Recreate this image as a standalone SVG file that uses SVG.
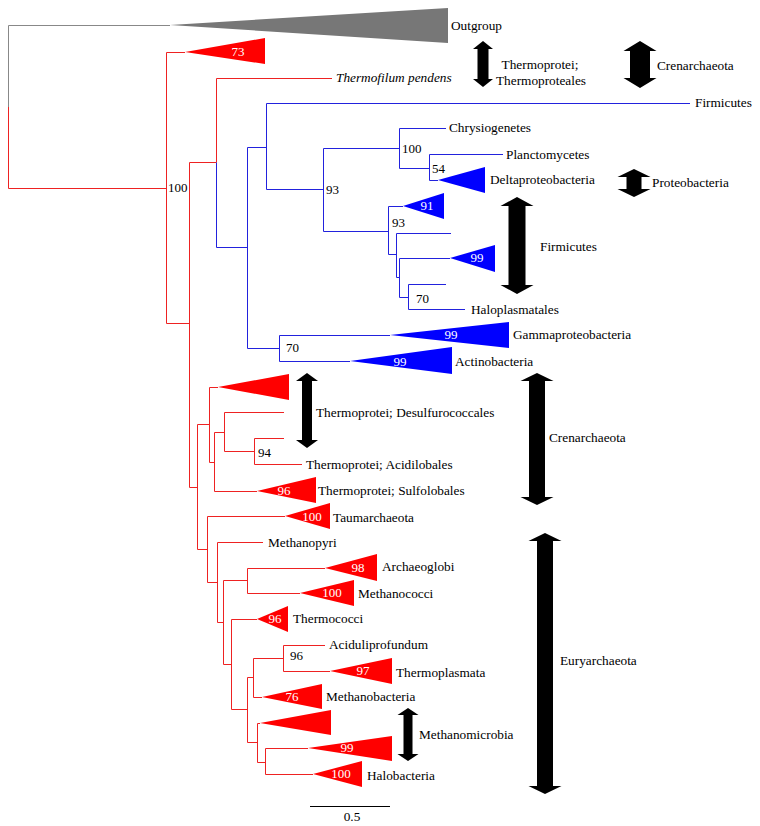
<svg xmlns="http://www.w3.org/2000/svg" width="760" height="826" viewBox="0 0 760 826" font-family="'Liberation Serif', serif">
<style>
text{font-family:"Liberation Serif","DejaVu Serif",serif;font-size:13.3px;fill:#000}
.n{font-size:13px}
.w{font-size:13px;fill:#fff;text-anchor:middle}
.i{font-style:italic}
.m{text-anchor:middle}
.r{fill:#ff0000}
.b{fill:#0000ff}
.g{fill:#777777}
.lr{fill:none;stroke:#ee2222;stroke-width:1}
.lb{fill:none;stroke:#2222dd;stroke-width:1}
.lg{fill:none;stroke:#888888;stroke-width:1}
.ar{fill:#000}
</style>
<rect width="760" height="826" fill="#fff"/>
<g id="connectors">
<path class="lg" d="M170,25.5 H8.5 V107"/>
<path class="lr" d="M8.5,107 V188.5 H166.5 M166.5,52.5 V323.5 M166.5,52.5 H185 M166.5,323.5 H189.5 M189.5,162.5 V487.5 M189.5,162.5 H216.5 M216.5,78.5 V162.5 M216.5,78.5 H332
M189.5,487.5 H197.5 M197.5,424.5 V549.5 M197.5,424.5 H209.5 M209.5,387.5 V462.5 M209.5,387.5 H218 M209.5,462.5 H214.5 M214.5,432.5 V491.5 M214.5,491.5 H257 M214.5,432.5 H224.5 M224.5,412.5 V451.5 M224.5,412.5 H284 M224.5,451.5 H254.5 M254.5,438.5 V464.5 M254.5,438.5 H284 M254.5,464.5 H302
M197.5,549.5 H207.5 M207.5,516.5 V582.5 M207.5,516.5 H285 M207.5,582.5 H217.5 M217.5,542.5 V622.5 M217.5,542.5 H263 M217.5,622.5 H223.5 M223.5,580.5 V664.5 M223.5,580.5 H247.5 M247.5,568.5 V593.5 M247.5,568.5 H325 M247.5,593.5 H300
M223.5,664.5 H231.5 M231.5,619.5 V709.5 M231.5,619.5 H257 M231.5,709.5 H247.5 M247.5,677.5 V742.5 M247.5,677.5 H253.5 M253.5,658.5 V697.5 M253.5,658.5 H283.5 M283.5,645.5 V671.5 M283.5,645.5 H325 M283.5,671.5 H330 M253.5,697.5 H262
M247.5,742.5 H257.5 M257.5,723.5 V762.5 M257.5,723.5 H260 M257.5,762.5 H265.5 M265.5,748.5 V774.5 M265.5,748.5 H308 M265.5,774.5 H313"/>
<path class="lb" d="M216.5,162.5 V247.5 H247.5 M247.5,147.5 V348.5 M247.5,147.5 H266.5 M266.5,103.5 V189.5 M266.5,103.5 H690 M266.5,189.5 H323.5 M323.5,148.5 V231.5 M323.5,148.5 H399.5 M399.5,128.5 V168.5 M399.5,128.5 H446 M399.5,168.5 H429.5 M429.5,154.5 V180.5 M429.5,154.5 H503 M429.5,180.5 H438
M323.5,231.5 H388.5 M388.5,206.5 V254.5 M388.5,206.5 H403 M388.5,254.5 H396.5 M396.5,233.5 V277.5 M396.5,233.5 H451 M396.5,277.5 H399.5 M399.5,258.5 V297.5 M399.5,258.5 H450 M399.5,297.5 H408.5 M408.5,284.5 V309.5 M408.5,284.5 H446 M408.5,309.5 H465
M247.5,348.5 H279.5 M279.5,335.5 V361.5 M279.5,335.5 H390 M279.5,361.5 H350"/>
</g>
<g id="support">
<text class="n" x="168" y="192">100</text>
<text class="n" x="402" y="153">100</text>
<text class="n" x="432" y="173">54</text>
<text class="n" x="326" y="194">93</text>
<text class="n" x="392" y="227">93</text>
<text class="n" x="416" y="303">70</text>
<text class="n" x="286" y="352">70</text>
<text class="n" x="258" y="457">94</text>
<text class="n" x="290" y="660">96</text>
</g>
<g id="outgroup"><polygon class="g" points="170,25 448,8 448,43"/><text x="451" y="30">Outgroup</text></g>
<g id="clade73"><polygon class="r" points="185,52 265,38 265,64"/><text class="w" x="238" y="56">73</text></g>
<g id="thermofilum"><text class="i" x="336" y="82">Thermofilum pendens</text></g>
<g id="firmicutes1"><text x="695" y="107">Firmicutes</text></g>
<g id="chrysiogenetes"><text x="449" y="132">Chrysiogenetes</text></g>
<g id="planctomycetes"><text x="506" y="159">Planctomycetes</text></g>
<g id="deltaproteobacteria"><polygon class="b" points="438,180 485,167 485,193"/><text x="490" y="184">Deltaproteobacteria</text></g>
<g id="clade91"><polygon class="b" points="403,206 444,193 444,219"/><text class="w" x="427" y="210">91</text></g>
<g id="clade99f"><polygon class="b" points="450,258 495,245 495,272"/><text class="w" x="477" y="262">99</text></g>
<g id="haloplasmatales"><text x="471" y="314">Haloplasmatales</text></g>
<g id="gammaproteobacteria"><polygon class="b" points="390,335 509,322 509,348"/><text class="w" x="451" y="339">99</text><text x="513" y="339">Gammaproteobacteria</text></g>
<g id="actinobacteria"><polygon class="b" points="350,361 452,347 452,374"/><text class="w" x="400" y="366">99</text><text x="455" y="366">Actinobacteria</text></g>
<g id="desulfurococcales"><polygon class="r" points="218,387 289,374 289,400"/></g>
<g id="acidilobales"><text x="306" y="469">Thermoprotei; Acidilobales</text></g>
<g id="sulfolobales"><polygon class="r" points="257,491 316,477 316,503"/><text class="w" x="284" y="495">96</text><text x="318" y="495">Thermoprotei; Sulfolobales</text></g>
<g id="taumarchaeota"><polygon class="r" points="285,516 330,503 330,529"/><text class="w" x="312" y="521">100</text><text x="333" y="522">Taumarchaeota</text></g>
<g id="methanopyri"><text x="268" y="547">Methanopyri</text></g>
<g id="archaeoglobi"><polygon class="r" points="325,568 377,554 377,581"/><text class="w" x="358" y="572">98</text><text x="382" y="571">Archaeoglobi</text></g>
<g id="methanococci"><polygon class="r" points="300,593 354,580 354,606"/><text class="w" x="332" y="597">100</text><text x="358" y="598">Methanococci</text></g>
<g id="thermococci"><polygon class="r" points="257,619 288,606 288,632"/><text class="w" x="275" y="623">96</text><text x="293" y="623">Thermococci</text></g>
<g id="aciduliprofundum"><text x="329" y="649">Aciduliprofundum</text></g>
<g id="thermoplasmata"><polygon class="r" points="330,671 392,658 392,684"/><text class="w" x="363" y="675">97</text><text x="396" y="677">Thermoplasmata</text></g>
<g id="methanobacteria"><polygon class="r" points="262,697 322,684 322,709"/><text class="w" x="292" y="701">76</text><text x="326" y="701">Methanobacteria</text></g>
<g id="methanomicrobia1"><polygon class="r" points="260,723 331,710 331,735"/></g>
<g id="methanomicrobia2"><polygon class="r" points="308,748 392,736 392,761"/><text class="w" x="347" y="752">99</text></g>
<g id="halobacteria"><polygon class="r" points="313,774 362,761 362,787"/><text class="w" x="341" y="778">100</text><text x="367" y="780">Halobacteria</text></g>
<g id="arrow-thermoproteales"><path class="ar" d="M483,41 L493,49 L488.5,49 L488.5,79 L493,79 L483,87 L473,79 L477.5,79 L477.5,49 L473,49 Z"/><text class="m" x="540" y="69">Thermoprotei;</text><text class="m" x="541" y="85">Thermoproteales</text></g>
<g id="arrow-crenarchaeota1"><path class="ar" d="M640,41 L656.5,51 L650,51 L650,78 L656.5,78 L640,88 L623.5,78 L630,78 L630,51 L623.5,51 Z"/><text x="657" y="70">Crenarchaeota</text></g>
<g id="arrow-proteobacteria"><path class="ar" d="M634,169 L650.5,177 L641.5,177 L641.5,189 L650.5,189 L634,197 L617.5,189 L626.5,189 L626.5,177 L617.5,177 Z"/><text x="652" y="187">Proteobacteria</text></g>
<g id="arrow-firmicutes"><path class="ar" d="M517,197 L533.5,206 L525.5,206 L525.5,285 L533.5,285 L517,294 L500.5,285 L508.5,285 L508.5,206 L500.5,206 Z"/><text x="540" y="251">Firmicutes</text></g>
<g id="arrow-desulfurococcales"><path class="ar" d="M307,373 L318,381 L312,381 L312,440 L318,440 L307,448 L296,440 L302,440 L302,381 L296,381 Z"/><text x="316" y="417">Thermoprotei; Desulfurococcales</text></g>
<g id="arrow-crenarchaeota2"><path class="ar" d="M537,373 L553.5,381 L545,381 L545,497 L553.5,497 L537,505 L520.5,497 L529,497 L529,381 L520.5,381 Z"/><text x="549" y="442">Crenarchaeota</text></g>
<g id="arrow-euryarchaeota"><path class="ar" d="M545,533 L561.5,541 L553,541 L553,786 L561.5,786 L545,794 L528.5,786 L537,786 L537,541 L528.5,541 Z"/><text x="560" y="665">Euryarchaeota</text></g>
<g id="arrow-methanomicrobia"><path class="ar" d="M408,708 L418.5,715 L412.5,715 L412.5,754 L418.5,754 L408,761 L397.5,754 L403.5,754 L403.5,715 L397.5,715 Z"/><text x="419" y="739">Methanomicrobia</text></g>
<g id="scale"><path d="M310,806.5 H390" stroke="#000" stroke-width="1"/><text class="m" x="352" y="821">0.5</text></g>
</svg>
